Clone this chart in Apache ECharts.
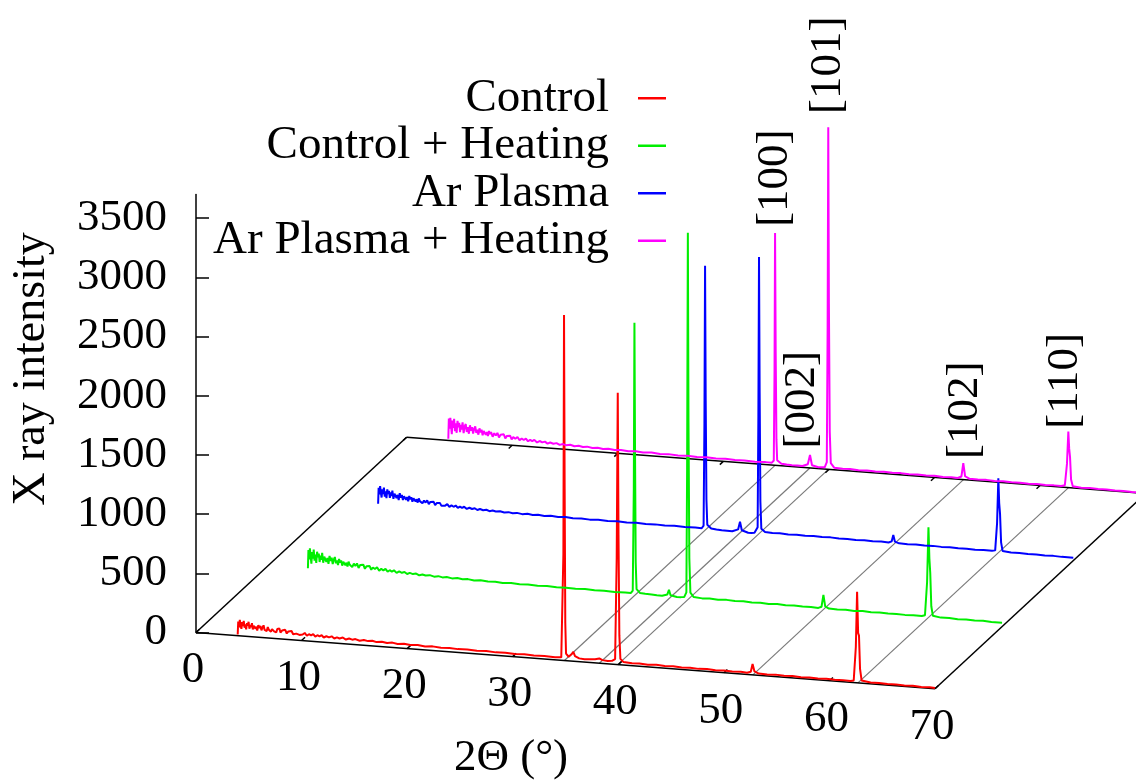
<!DOCTYPE html>
<html>
<head>
<meta charset="utf-8">
<script src="https://cdn.jsdelivr.net/npm/echarts@6/dist/echarts.min.js"></script>
<style>
html,body{margin:0;padding:0;background:#fff;}
#chart{width:1136px;height:783px;}
</style>
</head>
<body>
<div id="chart"></div>
<script>
// ---------------- data ----------------
const seriesNames = ['Control', 'Control + Heating', 'Ar Plasma', 'Ar Plasma + Heating'];
const seriesColors = ['#ff0000', '#00ee00', '#0000ff', '#ff00ff'];

const xTicks = [0, 10, 20, 30, 40, 50, 60, 70];
const yTicks = [0, 500, 1000, 1500, 2000, 2500, 3000, 3500];

const peakNames = ['[100]', '[002]', '[101]', '[102]', '[110]'];
const peakTheta = [34.9, 38.2, 39.95, 52.75, 62.7];
const labelTheta = [34.9, 37.5, 39.95, 52.9, 62.4];
const labelIntensity = [2014, 160, 3002, 175, 496];

const control = [
  [3.95, 10], [4.0, 120], [4.08, 70], [4.15, 135], [4.22, 95], [4.3, 60], [4.38, 118], [4.45, 85], [4.52, 128],
  [4.6, 72], [4.68, 100], [4.75, 58], [4.83, 112], [4.9, 90], [4.98, 124], [5.06, 66], [5.14, 98], [5.22, 80],
  [5.3, 115], [5.38, 62], [5.46, 95], [5.55, 108], [5.63, 70], [5.72, 88], [5.8, 55], [5.9, 102], [6.0, 78],
  [6.1, 96], [6.2, 60], [6.3, 85], [6.4, 104], [6.5, 66], [6.6, 80], [6.7, 58], [6.8, 92], [6.9, 70], [7.0, 84],
  [7.1, 55], [7.2, 78], [7.3, 95], [7.4, 60], [7.5, 74], [7.6, 52], [7.7, 82], [7.8, 66], [7.9, 88], [8.0, 54],
  [8.15, 72], [8.3, 60], [8.45, 80], [8.6, 50], [8.75, 68], [8.9, 58], [9.05, 74], [9.2, 48], [9.35, 64],
  [9.5, 55], [9.65, 70], [9.8, 46], [9.95, 60], [10.1, 52], [10.3, 66], [10.5, 44], [10.7, 58], [10.9, 50],
  [11.1, 62], [11.3, 42], [11.5, 55], [11.7, 47], [11.9, 58], [12.1, 40], [12.35, 52], [12.6, 44], [12.85, 55],
  [13.1, 38], [13.35, 50], [13.6, 42], [13.9, 52], [14.2, 37], [14.5, 48], [14.8, 40], [15.1, 47], [15.5, 36],
  [15.9, 45], [16.3, 38], [16.7, 44], [17.1, 35], [17.6, 42], [18.1, 34], [18.6, 41], [19.1, 33], [19.7, 39],
  [20.3, 32], [21, 37], [21.7, 30], [22.4, 35], [23.2, 29], [24, 33], [24.8, 28], [25.7, 31], [26.6, 26],
  [27.5, 30], [28.4, 25], [29.3, 28], [30.2, 24], [31.1, 27], [32, 23], [33, 26], [34, 22], [34.6, 25],
  [34.7, 40], [34.8, 900], [34.86, 2918], [34.92, 1450], [34.98, 320], [35.05, 60], [35.3, 35],
  [35.6, 60], [35.74, 80], [35.9, 45], [36.3, 28], [36.8, 24], [37.3, 27], [37.8, 30], [38.2, 40], [38.5, 28],
  [39.0, 24], [39.4, 28], [39.7, 45], [39.85, 900], [39.95, 2296], [40.02, 1100], [40.1, 250], [40.2, 50],
  [40.5, 25], [41.3, 20], [42, 24], [42.8, 19], [43.6, 23], [44.4, 18], [45.2, 22], [46, 17], [46.8, 21],
  [47.6, 16], [48.4, 20], [49.2, 15], [50, 19], [50.8, 15], [51.6, 18], [52.2, 14], [52.55, 25], [52.72, 92],
  [52.9, 30], [53.3, 15], [54.1, 13], [54.9, 17], [55.7, 12], [56.5, 16], [57.3, 12], [58.1, 15], [58.9, 11],
  [59.7, 14], [60.5, 11], [61.3, 14], [62, 12], [62.3, 18], [62.5, 300], [62.62, 770], [62.72, 420],
  [62.8, 400], [62.9, 120], [63.05, 22], [63.9, 11], [64.7, 13], [65.5, 9], [66.3, 12], [67.1, 8],
  [67.9, 11], [68.7, 7], [69.5, 9], [70, 6]
];

const controlHeating = [
  [3.95, 20], [4.0, 175], [4.07, 95], [4.14, 190], [4.21, 120], [4.28, 60], [4.35, 160], [4.42, 105], [4.5, 182],
  [4.58, 88], [4.66, 140], [4.74, 70], [4.82, 165], [4.9, 118], [4.98, 150], [5.06, 80], [5.14, 135], [5.22, 100],
  [5.3, 158], [5.4, 76], [5.5, 128], [5.6, 145], [5.7, 85], [5.8, 120], [5.9, 70], [6.0, 138], [6.1, 95],
  [6.2, 125], [6.3, 72], [6.4, 110], [6.5, 132], [6.6, 80], [6.7, 105], [6.8, 66], [6.9, 118], [7.0, 88],
  [7.1, 108], [7.2, 64], [7.3, 98], [7.4, 115], [7.5, 70], [7.6, 92], [7.7, 60], [7.8, 102], [7.9, 78], [8.0, 95],
  [8.15, 58], [8.3, 88], [8.45, 70], [8.6, 92], [8.75, 55], [8.9, 80], [9.05, 66], [9.2, 86], [9.35, 52],
  [9.5, 74], [9.65, 60], [9.8, 78], [9.95, 48], [10.1, 68], [10.3, 56], [10.5, 72], [10.7, 45], [10.9, 62],
  [11.1, 50], [11.3, 64], [11.5, 42], [11.7, 56], [11.9, 46], [12.1, 58], [12.35, 38], [12.6, 52], [12.85, 42],
  [13.1, 50], [13.35, 35], [13.6, 46], [13.9, 38], [14.2, 45], [14.5, 32], [14.8, 41], [15.1, 34], [15.5, 40],
  [15.9, 30], [16.3, 37], [16.7, 29], [17.1, 35], [17.6, 27], [18.1, 33], [18.6, 26], [19.1, 31], [19.7, 24],
  [20.3, 29], [21, 23], [21.7, 27], [22.4, 21], [23.2, 26], [24, 20], [24.8, 24], [25.7, 19], [26.6, 23],
  [27.5, 19], [28.4, 22], [29.3, 18], [30.2, 22], [31.1, 18], [32, 21], [33, 17], [34, 20], [34.55, 19],
  [34.72, 40], [34.82, 900], [34.88, 2304], [34.94, 1150], [35.0, 280], [35.08, 55], [35.4, 25],
  [35.9, 22], [36.5, 20], [37.0, 17], [37.5, 16], [38.0, 30], [38.15, 70], [38.3, 25], [38.9, 14], [39.3, 16],
  [39.6, 20], [39.8, 60], [39.87, 1100], [39.94, 3098], [40.0, 1500], [40.08, 350], [40.18, 60], [40.5, 25],
  [41.3, 19], [42, 23], [42.8, 18], [43.6, 22], [44.4, 17], [45.2, 21], [46, 16], [46.8, 20], [47.6, 15],
  [48.4, 19], [49.2, 14], [50, 18], [50.8, 14], [51.6, 17], [52.3, 13], [52.6, 25], [52.78, 126], [52.95, 30],
  [53.3, 14], [54.1, 12], [54.9, 16], [55.7, 11], [56.5, 15], [57.3, 11], [58.1, 14], [58.9, 10], [59.7, 13],
  [60.5, 10], [61.3, 13], [62.1, 11], [62.4, 20], [62.6, 300], [62.73, 765], [62.82, 500], [62.9, 380],
  [63.0, 100], [63.15, 20], [63.9, 10], [64.7, 12], [65.5, 8], [66.3, 11], [67.1, 7], [67.9, 10], [68.7, 6],
  [69.7, 7]
];

const arPlasma = [
  [3.95, 15], [4.0, 150], [4.07, 95], [4.14, 165], [4.21, 110], [4.28, 70], [4.35, 140], [4.42, 100], [4.5, 155],
  [4.58, 80], [4.66, 125], [4.74, 68], [4.82, 142], [4.9, 105], [4.98, 130], [5.06, 72], [5.14, 118], [5.22, 88],
  [5.3, 135], [5.4, 66], [5.5, 110], [5.6, 122], [5.7, 74], [5.8, 102], [5.9, 60], [6.0, 118], [6.1, 82],
  [6.2, 105], [6.3, 62], [6.4, 95], [6.5, 112], [6.6, 68], [6.7, 90], [6.8, 56], [6.9, 100], [7.0, 74],
  [7.1, 92], [7.2, 54], [7.3, 84], [7.4, 96], [7.5, 58], [7.6, 78], [7.7, 50], [7.8, 86], [7.9, 64], [8.0, 80],
  [8.15, 48], [8.3, 72], [8.45, 56], [8.6, 76], [8.75, 45], [8.9, 64], [9.05, 52], [9.2, 68], [9.35, 40],
  [9.5, 58], [9.65, 46], [9.8, 62], [9.95, 38], [10.1, 54], [10.3, 42], [10.5, 56], [10.7, 34], [10.9, 48],
  [11.1, 38], [11.3, 50], [11.5, 31], [11.7, 44], [11.9, 34], [12.1, 45], [12.35, 28], [12.6, 40], [12.85, 31],
  [13.1, 39], [13.35, 26], [13.6, 36], [13.9, 28], [14.2, 34], [14.5, 24], [14.8, 31], [15.1, 25], [15.5, 30],
  [15.9, 22], [16.3, 28], [16.7, 22], [17.1, 27], [17.6, 20], [18.1, 26], [18.6, 20], [19.1, 25], [19.7, 19],
  [20.3, 24], [21, 18], [21.7, 23], [22.4, 18], [23.2, 22], [24, 17], [24.8, 21], [25.7, 17], [26.6, 21],
  [27.5, 16], [28.4, 20], [29.3, 16], [30.2, 19], [31.1, 15], [32, 19], [33, 15], [34, 18], [34.6, 16],
  [34.78, 40], [34.86, 900], [34.92, 2236], [34.98, 1100], [35.05, 260], [35.13, 50], [35.5, 20],
  [36.0, 15], [36.5, 12], [37.0, 11], [37.5, 10], [38.05, 30], [38.23, 96], [38.4, 25], [39, 8], [39.3, 9],
  [39.6, 12], [39.9, 60], [39.97, 1000], [40.03, 2344], [40.09, 1200], [40.16, 280], [40.25, 50], [40.6, 25],
  [41.3, 21], [42, 24], [42.8, 20], [43.6, 23], [44.4, 19], [45.2, 23], [46, 19], [46.8, 22], [47.6, 17],
  [48.4, 20], [49.2, 17], [50, 20], [50.8, 16], [51.6, 19], [52.3, 16], [52.6, 28], [52.75, 83], [52.9, 28],
  [53.3, 16], [54.1, 14], [54.9, 17], [55.7, 13], [56.5, 16], [57.3, 13], [58.1, 15], [58.9, 12], [59.7, 14],
  [60.5, 11], [61.3, 14], [62.1, 12], [62.4, 18], [62.58, 250], [62.7, 629], [62.78, 420], [62.86, 330],
  [62.96, 90], [63.1, 18], [63.9, 10], [64.7, 12], [65.5, 8], [66.3, 10], [67.1, 7], [67.9, 9], [68.7, 6],
  [69.8, 6]
];

const arPlasmaHeating = [
  [3.95, 15], [4.0, 185], [4.07, 100], [4.14, 192], [4.21, 120], [4.28, 55], [4.35, 170], [4.42, 110], [4.5, 186],
  [4.58, 82], [4.66, 150], [4.74, 70], [4.82, 172], [4.9, 118], [4.98, 155], [5.06, 78], [5.14, 140], [5.22, 100],
  [5.3, 162], [5.4, 72], [5.5, 130], [5.6, 150], [5.7, 84], [5.8, 124], [5.9, 70], [6.0, 142], [6.1, 96],
  [6.2, 128], [6.3, 74], [6.4, 115], [6.5, 136], [6.6, 82], [6.7, 110], [6.8, 68], [6.9, 122], [7.0, 90],
  [7.1, 112], [7.2, 66], [7.3, 102], [7.4, 118], [7.5, 72], [7.6, 96], [7.7, 62], [7.8, 106], [7.9, 80], [8.0, 98],
  [8.15, 60], [8.3, 90], [8.45, 72], [8.6, 95], [8.75, 58], [8.9, 82], [9.05, 68], [9.2, 88], [9.35, 54],
  [9.5, 76], [9.65, 62], [9.8, 80], [9.95, 50], [10.1, 70], [10.3, 58], [10.5, 74], [10.7, 47], [10.9, 64],
  [11.1, 52], [11.3, 66], [11.5, 44], [11.7, 58], [11.9, 48], [12.1, 60], [12.35, 40], [12.6, 54], [12.85, 44],
  [13.1, 52], [13.35, 37], [13.6, 48], [13.9, 40], [14.2, 47], [14.5, 34], [14.8, 43], [15.1, 36], [15.5, 42],
  [15.9, 32], [16.3, 39], [16.7, 31], [17.1, 37], [17.6, 29], [18.1, 35], [18.6, 28], [19.1, 33], [19.7, 26],
  [20.3, 31], [21, 25], [21.7, 29], [22.4, 23], [23.2, 28], [24, 22], [24.8, 26], [25.7, 21], [26.6, 25],
  [27.5, 20], [28.4, 24], [29.3, 19], [30.2, 23], [31.1, 19], [32, 22], [33, 18], [34, 21], [34.6, 20],
  [34.78, 40], [34.85, 800], [34.9, 1963], [34.96, 950], [35.03, 220], [35.1, 45], [35.5, 18],
  [36.0, 14], [36.5, 12], [37.0, 13], [37.5, 12], [38.0, 30], [38.21, 110], [38.4, 25], [39, 12], [39.3, 13],
  [39.6, 15], [39.8, 60], [39.88, 1200], [39.94, 2889], [40.0, 1400], [40.08, 320], [40.18, 55], [40.5, 18],
  [41.3, 14], [42, 17], [42.8, 13], [43.6, 16], [44.4, 12], [45.2, 16], [46, 12], [46.8, 15], [47.6, 11],
  [48.4, 14], [49.2, 11], [50, 14], [50.8, 10], [51.6, 13], [52.2, 11], [52.55, 25], [52.73, 139], [52.9, 30],
  [53.3, 12], [54.1, 10], [54.9, 13], [55.7, 9], [56.5, 12], [57.3, 9], [58.1, 11], [58.9, 8], [59.7, 11],
  [60.5, 8], [61.3, 10], [62.0, 9], [62.35, 18], [62.55, 200], [62.68, 473], [62.76, 330], [62.84, 260],
  [62.94, 70], [63.1, 15], [63.9, 8], [64.7, 10], [65.5, 7], [66.3, 9], [67.1, 6], [67.9, 8], [68.7, 5],
  [69.7, 5]
];

const traces = [control, controlHeating, arPlasma, arPlasmaHeating];
const depthRange = [0, 3];
const thetaRange = [0, 70];

// ---------------- oblique projection (gnuplot-like 3D view) ----------------
const DEPTH_X = 6.65;   // degrees of 2θ shift per unit depth
const DEPTH_Y = 549.6;  // intensity-units shift per unit depth
const SLOPE = 6.79;     // intensity-units drop per degree along the 2θ axis
function proj(t, d, v) { return [t + d * DEPTH_X, v - t * SLOPE + d * DEPTH_Y]; }

const FONT = 'Liberation Serif';

// floor edges
const t0 = thetaRange[0], t1 = thetaRange[1], d0 = depthRange[0], d1 = depthRange[1];
const floorSegs = [
  [proj(t0, d0, 0), proj(t1, d0, 0)],
  [proj(t0, d0, 0), proj(t0, d1, 0)],
  [proj(t0, d1, 0), proj(t1, d1, 0)],
  [proj(t1, d0, 0), proj(t1, d1, 0)]
];
const tickSegs = [];
xTicks.forEach(t => {
  tickSegs.push([proj(t, d0, 0), proj(t, d0 + 0.05, 0)]);
  tickSegs.push([proj(t, d1, 0), proj(t, d1 - 0.05, 0)]);
});
const gridSegs = peakTheta.map(t => [proj(t, d0, 0), proj(t, d1, 0)]);

const series = [];
series.push({
  type: 'lines', coordinateSystem: 'cartesian2d', clip: false, silent: true, z: 1,
  lineStyle: { color: '#7a7a7a', width: 1.2, opacity: 1 },
  data: gridSegs.map(c => ({ coords: c }))
});
series.push({
  type: 'lines', coordinateSystem: 'cartesian2d', clip: false, silent: true, z: 2,
  lineStyle: { color: '#000', width: 1.5, opacity: 1 },
  data: floorSegs.concat(tickSegs).map(c => ({ coords: c }))
});
traces.forEach((tr, i) => {
  series.push({
    name: seriesNames[i], type: 'line', clip: false, silent: true, z: 3 + i,
    showSymbol: false, symbol: 'none',
    lineStyle: { color: seriesColors[i], width: 2 },
    itemStyle: { color: seriesColors[i] },
    data: tr.map(p => proj(p[0], i, p[1]))
  });
});
// 2θ tick labels along the front edge
series.push({
  type: 'scatter', silent: true, clip: false, symbolSize: 0, z: 10,
  itemStyle: { opacity: 1, color: '#000' },
  data: xTicks.map(t => ({ value: proj(t, d0, 0).concat([t]) })),
  label: {
    show: true, position: 'inside', offset: [-3, 38],
    formatter: p => String(p.value[2]),
    fontFamily: FONT, fontSize: 45, color: '#000', opacity: 1, textBorderWidth: 0
  }
});
// peak labels
series.push({
  type: 'scatter', silent: true, clip: false, symbolSize: 0, z: 10,
  itemStyle: { opacity: 1, color: '#000' },
  data: peakNames.map((n, k) => ({ value: proj(labelTheta[k], d1, labelIntensity[k]), name: n })),
  label: {
    show: true, position: 'top', distance: 0, rotate: 90, align: 'left', verticalAlign: 'middle',
    formatter: p => p.name,
    fontFamily: FONT, fontSize: 45, color: '#000', opacity: 1, textBorderWidth: 0
  }
});

const X_MAX = 940 / (739 / 70);  // hidden 2θ scale spans the whole width to the right edge

const chart = echarts.init(document.getElementById('chart'), null, { renderer: 'canvas' });
chart.setOption({
  animation: false,
  backgroundColor: '#fff',
  grid: { left: 196, right: 0, top: 194.4, bottom: 150.5, containLabel: false, outerBoundsMode: 'none' },
  xAxis: { type: 'value', min: 0, max: X_MAX, show: false },
  yAxis: {
    type: 'value', min: 0, max: 3700,
    axisLine: { show: true, lineStyle: { color: '#000', width: 1.5 } },
    axisTick: { show: true, inside: true, length: 13, customValues: yTicks, lineStyle: { color: '#000', width: 1.5 } },
    axisLabel: { customValues: yTicks, margin: 29, fontFamily: FONT, fontSize: 45, color: '#000',
      formatter: v => String(v) },
    splitLine: { show: false }
  },
  legend: {
    data: seriesNames,
    orient: 'vertical', align: 'right', right: 470, top: 74.5, padding: 0, itemGap: 0,
    icon: 'rect', itemWidth: 28, itemHeight: 2.5,
    selectedMode: false,
    textStyle: { fontFamily: FONT, fontSize: 47, color: '#000', lineHeight: 47.5, padding: [0, 24, 0, 0] }
  },
  graphic: [
    { type: 'text', x: 31.5, y: 369, rotation: Math.PI / 2,
      style: { text: 'X ray intensity', font: '46px "Liberation Serif"', fill: '#000', align: 'center', verticalAlign: 'middle' } },
    { type: 'text', x: 511, y: 758,
      style: { text: '2Θ (°)', font: '45px "Liberation Serif"', fill: '#000', align: 'center', verticalAlign: 'middle' } }
  ],
  series: series
});
</script>
</body>
</html>
